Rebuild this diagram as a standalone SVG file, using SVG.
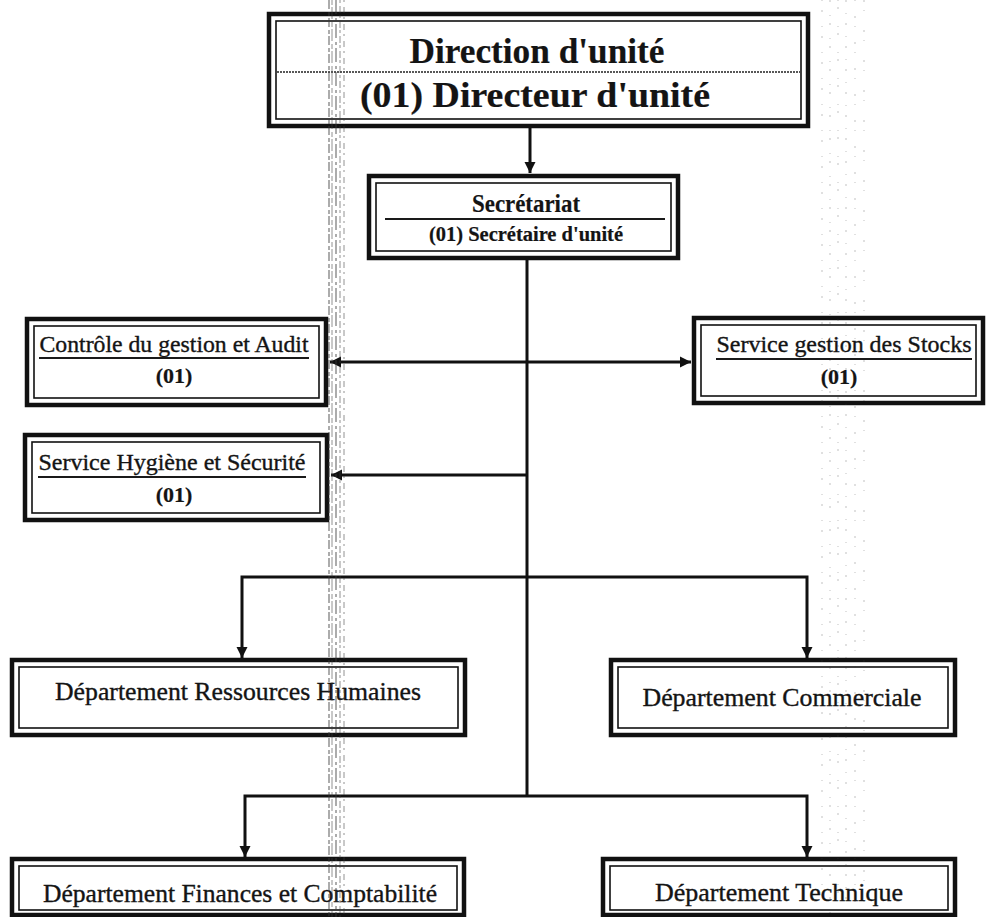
<svg xmlns="http://www.w3.org/2000/svg" width="993" height="917" viewBox="0 0 993 917">
  <style>
    .outer { fill: #fff; stroke: #111; stroke-width: 4.5; }
    .inner { fill: none; stroke: #111; stroke-width: 1.6; }
    .serif { font-family: "Liberation Serif", "Times New Roman", serif; fill: #141414; text-anchor: middle; stroke: #141414; stroke-width: 0.35; }
    .bold { font-weight: bold; stroke-width: 0.2; }
    .rule { stroke: #1a1a1a; stroke-width: 2; }
    .link { fill: none; stroke: #111; stroke-width: 3; }
    .band { stroke: #3a3a3a; fill: none; }
  </style>
  <defs>
    <marker id="arrow" markerUnits="userSpaceOnUse" markerWidth="12" markerHeight="12" refX="11" refY="6" orient="auto-start-reverse">
      <path d="M0,0.5 L11,6 L0,11.5 z" fill="#111"/>
    </marker>
  </defs>

  <rect width="993" height="917" fill="#fff"/>

  <!-- connectors -->
  <g id="connectors">
    <line class="link" x1="530" y1="128" x2="530" y2="173" marker-end="url(#arrow)"/>
    <line class="link" x1="527" y1="260" x2="527" y2="796"/>
    <line class="link" x1="330" y1="362" x2="691" y2="362" marker-start="url(#arrow)" marker-end="url(#arrow)"/>
    <line class="link" x1="527" y1="475" x2="331" y2="475" marker-end="url(#arrow)"/>
    <polyline class="link" points="242,658 242,577 807,577 807,658" marker-start="url(#arrow)" marker-end="url(#arrow)"/>
    <polyline class="link" points="245,857 245,796 807,796 807,857" marker-start="url(#arrow)" marker-end="url(#arrow)"/>
  </g>

  <!-- Direction -->
  <g id="direction">
    <rect class="outer" x="269" y="14" width="539" height="112"/>
    <rect class="inner" x="276" y="21" width="525" height="98"/>
    <text class="serif bold" x="537" y="63" font-size="36" textLength="255" lengthAdjust="spacingAndGlyphs">Direction d'unité</text>
    <line x1="277" y1="72" x2="800" y2="72" stroke="#222" stroke-width="1.6" stroke-dasharray="2 1"/>
    <text class="serif bold" x="535" y="107" font-size="36" textLength="350" lengthAdjust="spacingAndGlyphs">(01) Directeur d'unité</text>
  </g>

  <!-- Secretariat -->
  <g id="secretariat">
    <rect class="outer" x="369" y="176" width="309" height="82"/>
    <rect class="inner" x="376" y="183" width="295" height="68"/>
    <text class="serif bold" x="526" y="212" font-size="25" textLength="108" lengthAdjust="spacingAndGlyphs">Secrétariat</text>
    <line class="rule" x1="385" y1="219" x2="665" y2="219"/>
    <text class="serif bold" x="526" y="241" font-size="20" textLength="194" lengthAdjust="spacingAndGlyphs">(01) Secrétaire d'unité</text>
  </g>

  <!-- Controle -->
  <g id="controle">
    <rect class="outer" x="27" y="319" width="299" height="86"/>
    <rect class="inner" x="34" y="326" width="285" height="72"/>
    <text class="serif" x="174" y="352" font-size="23" textLength="269" lengthAdjust="spacingAndGlyphs">Contrôle du gestion et Audit</text>
    <line class="rule" x1="39" y1="358" x2="309" y2="358"/>
    <text class="serif bold" x="174" y="383" font-size="22">(01)</text>
  </g>

  <!-- Stocks -->
  <g id="stocks">
    <rect class="outer" x="694" y="318" width="289" height="85"/>
    <rect class="inner" x="701" y="325" width="275" height="71"/>
    <text class="serif" x="844" y="352" font-size="23" textLength="255" lengthAdjust="spacingAndGlyphs">Service gestion des Stocks</text>
    <line class="rule" x1="716" y1="359" x2="972" y2="359"/>
    <text class="serif bold" x="839" y="384" font-size="22">(01)</text>
  </g>

  <!-- Hygiene -->
  <g id="hygiene">
    <rect class="outer" x="25" y="435" width="302" height="85"/>
    <rect class="inner" x="32" y="442" width="288" height="71"/>
    <text class="serif" x="172" y="470" font-size="23" textLength="267" lengthAdjust="spacingAndGlyphs">Service Hygiène et Sécurité</text>
    <line class="rule" x1="38" y1="477" x2="306" y2="477"/>
    <text class="serif bold" x="174" y="502" font-size="22">(01)</text>
  </g>

  <!-- Ressources Humaines -->
  <g id="rh">
    <rect class="outer" x="12" y="660" width="453" height="75"/>
    <rect class="inner" x="19" y="667" width="439" height="61"/>
    <text class="serif" x="238" y="700" font-size="25" textLength="366" lengthAdjust="spacingAndGlyphs">Département Ressources Humaines</text>
  </g>

  <!-- Commerciale -->
  <g id="commerciale">
    <rect class="outer" x="611" y="660" width="344" height="75"/>
    <rect class="inner" x="618" y="667" width="330" height="61"/>
    <text class="serif" x="782" y="706" font-size="25" textLength="279" lengthAdjust="spacingAndGlyphs">Département Commerciale</text>
  </g>

  <!-- Finances -->
  <g id="finances">
    <rect class="outer" x="12" y="859" width="452" height="56"/>
    <rect class="inner" x="19" y="866" width="438" height="44"/>
    <text class="serif" x="240" y="902" font-size="25" textLength="394" lengthAdjust="spacingAndGlyphs">Département Finances et Comptabilité</text>
  </g>

  <!-- Technique -->
  <g id="technique">
    <rect class="outer" x="603" y="859" width="352" height="56"/>
    <rect class="inner" x="610" y="866" width="338" height="44"/>
    <text class="serif" x="779" y="901" font-size="25" textLength="248" lengthAdjust="spacingAndGlyphs">Département Technique</text>
  </g>

  <!-- scanner streaks -->
  <g id="streaks" opacity="0.55">
    <line class="band" x1="329" y1="0" x2="329" y2="917" stroke-width="1.5" stroke-dasharray="9 3 4 2"/>
    <line class="band" x1="332" y1="0" x2="332" y2="917" stroke-width="1" stroke-dasharray="5 2 12 3"/>
    <line class="band" x1="336" y1="0" x2="336" y2="917" stroke-width="1.5" stroke-dasharray="14 4 3 3"/>
    <line class="band" x1="340" y1="0" x2="340" y2="917" stroke-width="1" stroke-dasharray="3 3 7 2"/>
    <line class="band" x1="344" y1="0" x2="344" y2="917" stroke-width="1" stroke-dasharray="2 5 6 4"/>
  </g>
  <g id="speckle" opacity="0.25">
    <line class="band" x1="822" y1="0" x2="822" y2="917" stroke-width="1.2" stroke-dasharray="1 9 2 14"/>
    <line class="band" x1="830" y1="0" x2="830" y2="917" stroke-width="1.2" stroke-dasharray="2 13 1 7"/>
    <line class="band" x1="838" y1="0" x2="838" y2="917" stroke-width="1.2" stroke-dasharray="1 6 2 17"/>
    <line class="band" x1="846" y1="0" x2="846" y2="917" stroke-width="1.2" stroke-dasharray="2 11 1 9"/>
    <line class="band" x1="855" y1="0" x2="855" y2="917" stroke-width="1.2" stroke-dasharray="1 15 2 8"/>
    <line class="band" x1="864" y1="0" x2="864" y2="917" stroke-width="1.2" stroke-dasharray="2 8 1 19"/>
  </g>
</svg>
